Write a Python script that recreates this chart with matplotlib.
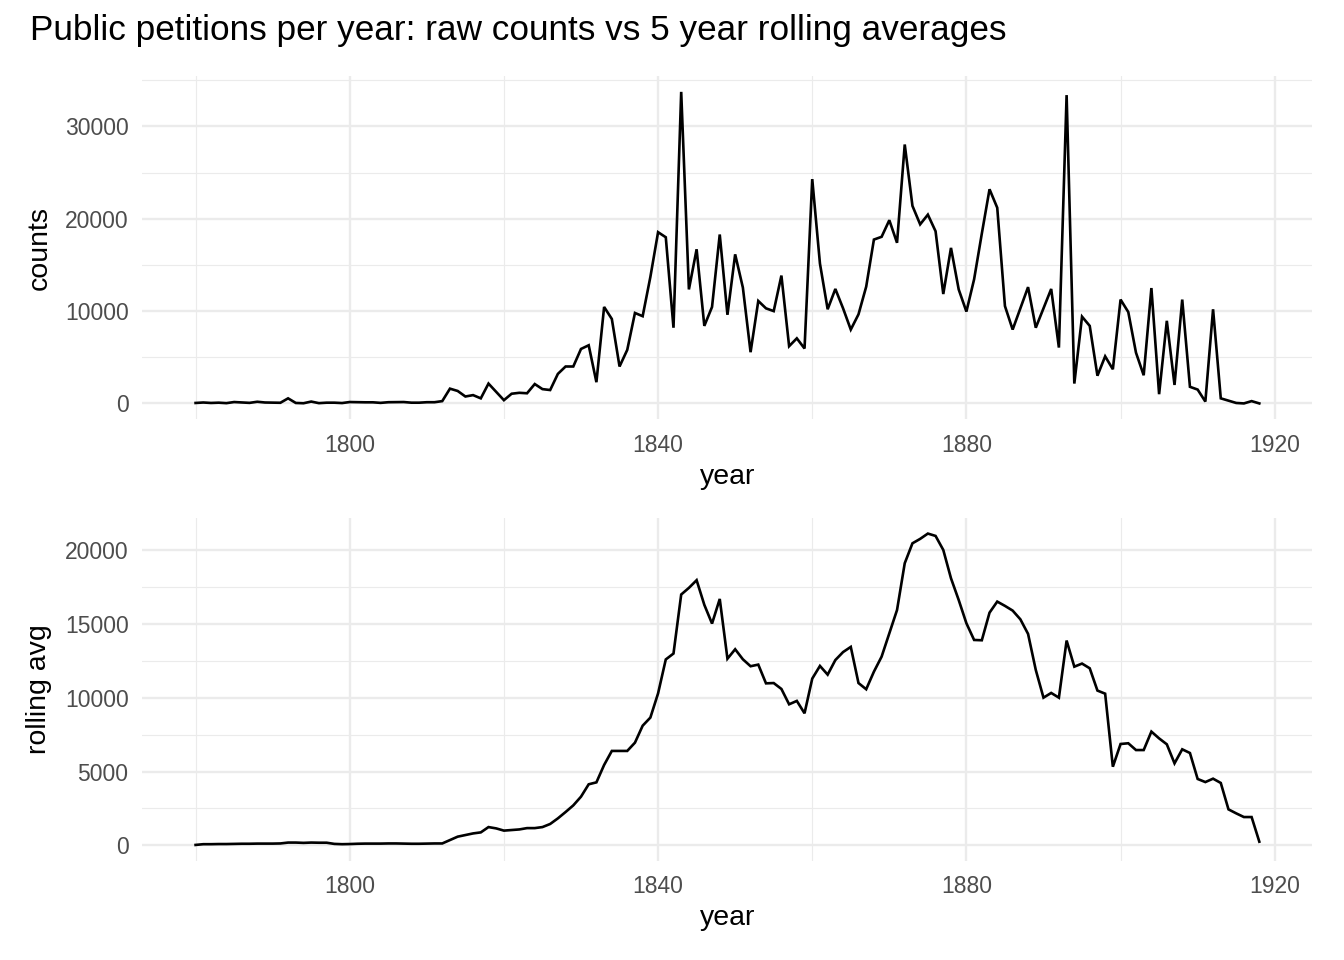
import matplotlib
matplotlib.use("Agg")
import matplotlib.pyplot as plt
from matplotlib.ticker import MultipleLocator, FixedLocator

plt.rcParams['font.family'] = ['Liberation Sans', 'DejaVu Sans']

years = list(range(1780, 1919))

counts = [
    50, 100, 50, 80, 30, 150, 100, 60, 180, 100,            # 1780s
    80, 70, 550, 50, 20, 200, 30, 80, 80, 40,               # 1790s
    150, 130, 120, 120, 60, 130, 140, 150, 80, 80,          # 1800s
    130, 130, 250, 1600, 1350, 750, 900, 550, 2150, 1250,   # 1810s
    350, 1050, 1150, 1100, 2100, 1550, 1450, 3200, 4000, 4000,  # 1820s
    5900, 6300, 2300, 10450, 9150, 4000, 5800, 9800, 9450, 13700,  # 1830s
    18550, 18000, 8200, 33750, 12350, 16700, 8400, 10450, 18300, 9600,  # 1840s
    16150, 12550, 5550, 11100, 10300, 10000, 13850, 6200, 7050, 5950,  # 1850s
    24300, 15150, 10200, 12400, 10300, 8000, 9650, 12650, 17750, 18050,  # 1860s
    19850, 17400, 28050, 21400, 19400, 20450, 18650, 11850, 16850, 12350,  # 1870s
    9950, 13450, 18400, 23200, 21200, 10550, 8000, 10300, 12600, 8200,  # 1880s
    10300, 12400, 6050, 33400, 2150, 9400, 8400, 3000, 5100, 3700,  # 1890s
    11250, 9900, 5500, 3050, 12500, 1000, 8950, 2000, 11250, 1800,  # 1900s
    1500, 200, 10200, 550, 300, 50, 0, 250, 0,              # 1910-1918
]

rolling = [
    30, 80, 80, 90, 90, 100, 110, 110, 120, 120,            # 1780s
    120, 130, 190, 190, 170, 190, 180, 180, 100, 80,        # 1790s
    90, 110, 120, 120, 120, 130, 130, 120, 110, 110,        # 1800s
    120, 130, 130, 360, 590, 700, 810, 880, 1240, 1150,     # 1810s
    1000, 1040, 1080, 1170, 1170, 1240, 1450, 1830, 2260, 2710,  # 1820s
    3300, 4140, 4270, 5450, 6400, 6400, 6400, 6960, 8110, 8660,  # 1830s
    10300, 12600, 13000, 17000, 17450, 17970, 16300, 15030, 16700, 12650,  # 1840s
    13290, 12610, 12140, 12250, 10980, 11000, 10600, 9560, 9790, 8950,  # 1850s
    11300, 12160, 11570, 12560, 13100, 13450, 11000, 10580, 11770, 12790,  # 1860s
    14370, 15950, 19120, 20470, 20770, 21130, 20970, 20020, 18100, 16630,  # 1870s
    15050, 13920, 13900, 15770, 16520, 16230, 15910, 15320, 14330, 11890,  # 1880s
    10010, 10330, 10010, 13880, 12110, 12320, 12000, 10490, 10280, 5330,  # 1890s
    6870, 6920, 6460, 6460, 7710, 7250, 6850, 5560, 6510, 6260,  # 1900s
    4500, 4290, 4520, 4230, 2440, 2170, 1920, 1920, 250,    # 1910-1918
]

title = "Public petitions per year: raw counts vs 5 year rolling averages"
x_label = "year"
y_labels = ["counts", "rolling avg"]

W, H = 1344, 960
fig = plt.figure(figsize=(W / 100, H / 100), dpi=100)
fig.patch.set_facecolor("white")

grid_col = "#EBEBEB"
tick_col = "#4D4D4D"

def px_axes(left, top, right, bottom):
    return fig.add_axes([left / W, 1 - bottom / H, (right - left) / W, (bottom - top) / H])

def expand(vals, frac=0.05):
    lo, hi = min(vals), max(vals)
    r = hi - lo
    return lo - frac * r, hi + frac * r

ax1 = px_axes(142.4, 76.3, 1312.5, 419)
ax2 = px_axes(142.4, 518, 1312.5, 860.5)

panels = [
    (ax1, counts, y_labels[0], 10000, 5000),
    (ax2, rolling, y_labels[1], 5000, 2500),
]

for ax, vals, ylab, ymaj, ymin_ in panels:
    ax.set_facecolor("white")
    ax.plot(years, vals, color="black", lw=1.9, solid_joinstyle="miter", zorder=3)
    ax.set_xlim(*expand(years))
    ax.set_ylim(*expand(vals))
    ax.xaxis.set_major_locator(FixedLocator([1800, 1840, 1880, 1920]))
    ax.xaxis.set_minor_locator(FixedLocator([1780, 1820, 1860, 1900]))
    ax.yaxis.set_major_locator(MultipleLocator(ymaj))
    ax.yaxis.set_minor_locator(MultipleLocator(ymin_))
    ax.grid(which="major", color=grid_col, lw=1.7, zorder=0)
    ax.grid(which="minor", color=grid_col, lw=0.85, zorder=0)
    ax.set_axisbelow(True)
    for s in ax.spines.values():
        s.set_visible(False)
    ax.tick_params(which="both", length=0)
    ax.tick_params(axis="x", which="major", pad=10.5, labelsize=16.5, labelcolor=tick_col)
    ax.tick_params(axis="y", which="major", pad=10, labelsize=16.5, labelcolor=tick_col)
    ax.set_xlabel(x_label, fontsize=20.5, color="black", labelpad=5)
    ax.set_ylabel(ylab, fontsize=20.5, color="black", labelpad=9)

fig.text(30 / W, 1 - 40 / H, title, fontsize=25.3, color="black", ha="left", va="baseline")

fig.savefig("out.png", dpi=100, facecolor="white")
